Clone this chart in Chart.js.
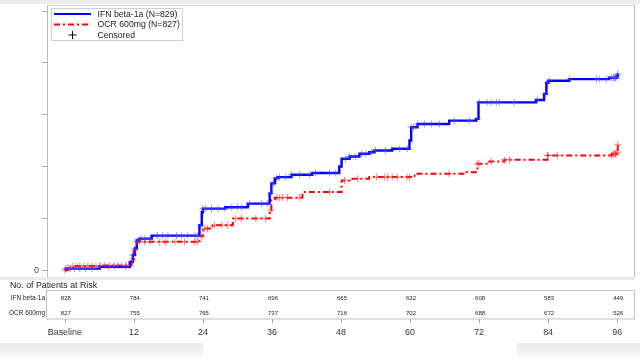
<!DOCTYPE html>
<html><head><meta charset="utf-8">
<script src="https://cdn.jsdelivr.net/npm/chart.js@4.4.1/dist/chart.umd.min.js"></script>
<style>
html,body{margin:0;padding:0;background:#fff;width:640px;height:362px;overflow:hidden}
#wrap{position:relative;width:640px;height:362px}
.band{position:absolute}
canvas{position:absolute;left:0;top:0}
</style></head><body>
<div id="wrap">
<div class="band" style="left:0;top:0;width:640px;height:4px;background:#ececec"></div>
<div class="band" style="left:0;top:343px;width:203px;height:15px;background:linear-gradient(#e8e8e8,#fbfbfb)"></div>
<div class="band" style="left:517px;top:343px;width:123px;height:15px;background:linear-gradient(#e8e8e8,#fbfbfb)"></div>
<canvas id="c" width="640" height="362"></canvas>
</div>
<script>
// ---- data ----
const tickMonths = [0, 12, 24, 36, 48, 60, 72, 84, 96];
const tickLabels = ['Baseline', '12', '24', '36', '48', '60', '72', '84', '96'];
const yTicks = [0, 5, 10, 15, 20, 25];
const yTickLabels = ['0', '', '', '', '', ''];

const ifnLabel = 'IFN beta-1a (N=829)';
const ocrLabel = 'OCR 600mg (N=827)';
const censorLabel = 'Censored';

// IFN beta-1a step curve (months, cumulative value)
const ifnT = [0, 0.2, 6.1, 11.3, 11.8, 12.2, 12.5, 13.0, 15.1, 23.4, 23.8, 24.0, 27.9, 31.8, 35.6, 35.9, 36.5, 37.0, 39.4, 43.0, 47.7, 48.1, 49.5, 51.2, 52.9, 53.8, 56.9, 59.9, 60.2, 61.3, 66.8, 71.5, 71.9, 81.9, 83.3, 83.7, 84.0, 87.7, 94.6, 96.0, 96.1];
const ifnV = [0, 0.14, 0.32, 0.77, 1.44, 2.1, 2.88, 3.03, 3.32, 4.33, 5.58, 5.93, 6.06, 6.41, 7.4, 8.37, 8.85, 8.97, 9.2, 9.36, 10.0, 10.74, 10.96, 11.22, 11.37, 11.54, 11.7, 12.5, 13.78, 14.1, 14.42, 14.59, 16.18, 16.41, 17.0, 18.08, 18.27, 18.43, 18.56, 18.75, 18.94];
// OCR 600mg step curve
const ocrT = [0, 0.5, 1.4, 6.1, 11.6, 12.0, 12.5, 23.4, 24.0, 25.7, 29.2, 35.6, 35.9, 36.5, 41.3, 48.1, 49.5, 52.9, 60.8, 69.8, 71.7, 73.8, 76.4, 83.9, 95.1, 96.0, 96.1];
const ocrV = [0, 0.19, 0.38, 0.43, 0.96, 1.92, 2.72, 3.27, 4.01, 4.33, 4.97, 5.77, 6.73, 6.99, 7.53, 8.65, 8.82, 8.97, 9.3, 9.45, 10.26, 10.48, 10.64, 11.06, 11.22, 11.37, 12.1];

// censoring times (months)
const ifnCensor = [0.2, 0.9, 1.7, 2.6, 3.6, 4.7, 6.1, 7.5, 8.7, 10.6, 11.5, 11.8, 12.2, 12.7, 13.2, 13.9, 14.8, 16.1, 17.0, 17.9, 19.4, 20.3, 21.4, 22.6, 23.1, 23.6, 24.0, 24.5, 25.5, 26.6, 27.8, 29.0, 30.0, 30.7, 32.1, 34.2, 35.2, 35.8, 36.3, 36.8, 37.3, 38.4, 39.4, 40.8, 42.5, 43.6, 46.0, 47.0, 48.8, 49.5, 50.5, 51.6, 52.3, 53.3, 54.0, 55.7, 58.2, 59.5, 60.2, 60.6, 61.3, 62.5, 63.7, 65.1, 67.7, 70.3, 71.7, 72.0, 73.4, 74.1, 75.0, 75.5, 78.1, 82.1, 83.5, 83.9, 84.2, 87.7, 92.4, 92.9, 94.1, 95.0, 95.3, 95.5, 95.7, 95.8, 96.0, 96.1];
const ocrCensor = [0.0, 0.5, 0.9, 1.4, 2.1, 2.6, 3.3, 4.0, 4.7, 5.4, 6.1, 6.9, 7.8, 8.5, 9.2, 9.9, 10.6, 11.1, 11.8, 12.2, 12.5, 13.0, 13.9, 14.8, 16.5, 17.5, 19.1, 20.8, 22.6, 23.1, 23.8, 24.3, 24.8, 26.0, 27.3, 28.3, 29.7, 30.7, 33.2, 34.9, 35.8, 36.8, 37.3, 37.8, 38.7, 40.8, 46.0, 48.6, 50.9, 54.2, 55.6, 56.1, 56.9, 57.8, 59.5, 59.9, 66.8, 71.7, 72.0, 74.1, 76.4, 77.3, 83.9, 84.0, 85.6, 95.0, 95.3, 95.5, 95.7, 95.8, 96.0, 96.1];

// patients at risk
const riskTitle = 'No. of Patients at Risk';
const riskRows = ['IFN beta-1a', 'OCR 600mg'];
const ifnRisk = [828, 784, 741, 696, 665, 632, 608, 583, 449];
const ocrRisk = [827, 755, 765, 737, 716, 702, 688, 672, 526];

// ---- helpers ----
function stepAt(T, V, t) {
  let v = V[0];
  for (let i = 0; i < T.length; i++) { if (T[i] <= t) v = V[i]; else break; }
  return v;
}
const FONT = '"Liberation Sans", Arial, sans-serif';
const BLUE = '#0000ff', RED = '#ff0000';
const RED_DASH = [6, 3, 2, 3];

const deco = {
  id: 'deco',
  beforeDraw(chart) {
    const {ctx, chartArea: a} = chart;
    ctx.save();
    ctx.fillStyle = '#fff';
    ctx.fillRect(a.left, a.top, a.right - a.left, a.bottom - a.top);
    ctx.restore();
  },
  afterDraw(chart) {
    const {ctx, chartArea: a, scales: {x}} = chart;
    ctx.save();
    // frame
    ctx.lineWidth = 1;
    ctx.strokeStyle = '#d0d0d0';
    ctx.beginPath(); ctx.moveTo(a.left, a.top + 0.5); ctx.lineTo(a.right, a.top + 0.5); ctx.stroke();
    ctx.strokeStyle = '#bdbdbd';
    ctx.beginPath(); ctx.moveTo(a.right - 0.5, a.top); ctx.lineTo(a.right - 0.5, a.bottom); ctx.stroke();
    ctx.fillStyle = '#ebebeb';
    ctx.fillRect(0, a.bottom, a.right, 3);

    // legend
    const lx = 51, ly = 8, lw = 131, lh = 32;
    ctx.fillStyle = '#fff';
    ctx.fillRect(lx, ly, lw, lh);
    ctx.strokeStyle = '#cfcfcf';
    ctx.strokeRect(lx + 0.5, ly + 0.5, lw, lh);
    const rowsY = [14, 24.5, 35];
    ctx.lineWidth = 2.2; ctx.strokeStyle = BLUE; ctx.setLineDash([]);
    ctx.beginPath(); ctx.moveTo(54, rowsY[0]); ctx.lineTo(91, rowsY[0]); ctx.stroke();
    ctx.lineWidth = 2; ctx.strokeStyle = RED; ctx.setLineDash(RED_DASH);
    ctx.beginPath(); ctx.moveTo(54, rowsY[1]); ctx.lineTo(91, rowsY[1]); ctx.stroke();
    ctx.setLineDash([]);
    ctx.lineWidth = 1; ctx.strokeStyle = '#000';
    ctx.beginPath(); ctx.moveTo(68.5, rowsY[2]); ctx.lineTo(76.5, rowsY[2]);
    ctx.moveTo(72.5, rowsY[2] - 4); ctx.lineTo(72.5, rowsY[2] + 4); ctx.stroke();
    ctx.fillStyle = '#222'; ctx.font = '8.7px ' + FONT;
    ctx.textAlign = 'left'; ctx.textBaseline = 'middle';
    ctx.fillText(ifnLabel, 97.5, rowsY[0] + 0.5);
    ctx.fillText(ocrLabel, 97.5, rowsY[1] + 0.5);
    ctx.fillText(censorLabel, 97.5, rowsY[2] + 0.5);

    // risk table
    ctx.fillStyle = '#222'; ctx.font = '8.8px ' + FONT;
    ctx.fillText(riskTitle, 10, 285.5);
    ctx.strokeStyle = '#bfbfbf'; ctx.lineWidth = 1;
    ctx.strokeRect(a.left - 0.5, 290.5, a.right - a.left, 28.5);
    ctx.font = '6.5px ' + FONT; ctx.textAlign = 'right';
    ctx.fillText(riskRows[0], 45, 298.5);
    ctx.fillText(riskRows[1], 45, 313.5);
    ctx.font = '6px ' + FONT; ctx.textAlign = 'center';
    ctx.strokeStyle = '#aaa';
    tickMonths.forEach((m, i) => {
      const px = x.getPixelForValue(m);
      ctx.fillText(String(ifnRisk[i]), px + 1, 298.5);
      ctx.fillText(String(ocrRisk[i]), px + 1, 313.5);
      ctx.beginPath(); ctx.moveTo(Math.round(px) + 0.5, 319); ctx.lineTo(Math.round(px) + 0.5, 323); ctx.stroke();
    });
    ctx.restore();
  }
};

const ctx = document.getElementById('c').getContext('2d');
new Chart(ctx, {
  type: 'line',
  data: {
    datasets: [
      {
        type: 'scatter', label: censorLabel + ' IFN',
        data: ifnCensor.map(t => ({x: t, y: stepAt(ifnT, ifnV, t)})),
        pointStyle: 'cross', pointRadius: 3.5, pointBorderWidth: 1,
        borderColor: 'rgba(70,70,255,0.55)', backgroundColor: 'rgba(70,70,255,0.55)', showLine: false
      },
      {
        type: 'scatter', label: censorLabel + ' OCR',
        data: ocrCensor.map(t => ({x: t, y: stepAt(ocrT, ocrV, t)})),
        pointStyle: 'cross', pointRadius: 3.5, pointBorderWidth: 1,
        borderColor: 'rgba(255,40,40,0.6)', backgroundColor: 'rgba(255,40,40,0.6)', showLine: false
      },
      {
        label: ifnLabel,
        data: ifnT.map((t, i) => ({x: t, y: ifnV[i]})),
        stepped: true, borderColor: BLUE, borderWidth: 2.4, pointRadius: 0, fill: false
      },
      {
        label: ocrLabel,
        data: ocrT.map((t, i) => ({x: t, y: ocrV[i]})),
        stepped: true, borderColor: RED, borderWidth: 2, borderDash: RED_DASH, pointRadius: 0, fill: false
      }
    ]
  },
  options: {
    responsive: false,
    devicePixelRatio: 1,
    animation: false,
    events: [],
    layout: {padding: {top: 4, right: 4, left: 0, bottom: 0}},
    plugins: {legend: {display: false}, tooltip: {enabled: false}},
    scales: {
      x: {
        type: 'linear', min: -3.1, max: 99.1,
        afterBuildTicks: s => { s.ticks = tickMonths.map(v => ({value: v})); },
        afterFit: s => { s.height = 85; s.paddingLeft = 0; s.paddingRight = 0; },
        grid: {display: false, drawTicks: false},
        border: {display: false},
        ticks: {
          padding: 50, maxRotation: 0, autoSkip: false,
          color: '#333', font: {family: FONT, size: 8.9},
          callback: (v) => tickLabels[tickMonths.indexOf(v)]
        }
      },
      y: {
        type: 'linear', min: -0.67, max: 25.58,
        afterBuildTicks: s => { s.ticks = yTicks.map(v => ({value: v})); },
        afterFit: s => { s.width = 47; s.paddingTop = 0; s.paddingBottom = 0; },
        grid: {display: true, drawOnChartArea: false, drawTicks: true, tickLength: 5, color: '#aaa'},
        border: {display: true, color: '#b8b8b8', width: 1},
        ticks: {
          padding: 3, color: '#444', font: {family: FONT, size: 9},
          callback: (v) => yTickLabels[yTicks.indexOf(v)]
        }
      }
    }
  },
  plugins: [deco]
});
</script>
</body></html>
